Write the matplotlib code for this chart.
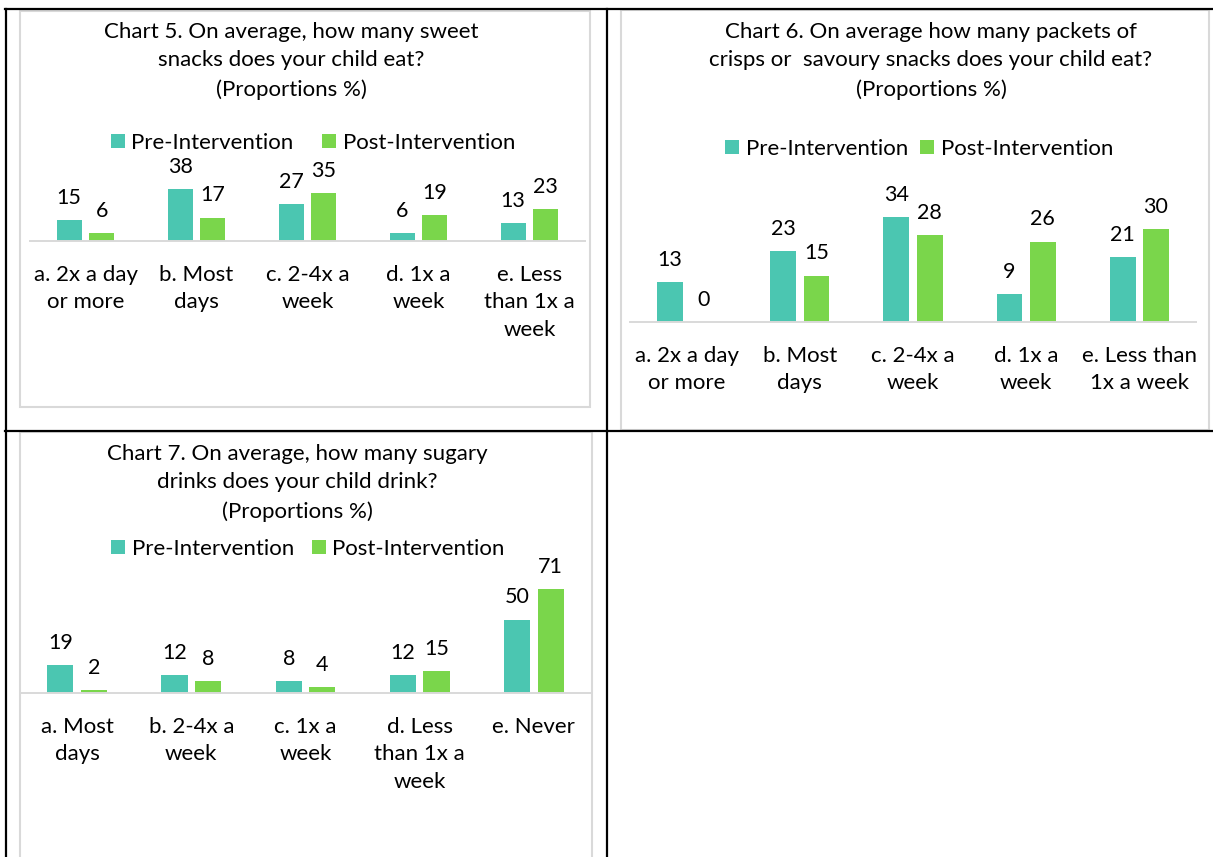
import matplotlib
matplotlib.use("Agg")
import matplotlib.pyplot as plt
from matplotlib.patches import Rectangle
from matplotlib.lines import Line2D
import numpy as np

W, H = 1213, 857
PRE_COLOR = "#4BC6B1"
POST_COLOR = "#7AD64B"
GRID_GRAY = "#D9D9D9"
FS = 16

series_names = ["Pre-Intervention", "Post-Intervention"]

# Chart 5 - sweet snacks
c5_title = "Chart 5. On average, how many sweet\nsnacks does your child eat?\n(Proportions %)"
c5_labels = ["a. 2x a day\nor more", "b. Most\ndays", "c. 2-4x a\nweek", "d. 1x a\nweek", "e. Less\nthan 1x a\nweek"]
c5_pre = [15, 38, 27, 6, 13]
c5_post = [6, 17, 35, 19, 23]

# Chart 6 - crisps / savoury snacks
c6_title = "Chart 6. On average how many packets of\ncrisps or  savoury snacks does your child eat?\n(Proportions %)"
c6_labels = ["a. 2x a day\nor more", "b. Most\ndays", "c. 2-4x a\nweek", "d. 1x a\nweek", "e. Less than\n1x a week"]
c6_pre = [13, 23, 34, 9, 21]
c6_post = [0, 15, 28, 26, 30]

# Chart 7 - sugary drinks
c7_title = "Chart 7. On average, how many sugary\ndrinks does your child drink?\n(Proportions %)"
c7_labels = ["a. Most\ndays", "b. 2-4x a\nweek", "c. 1x a\nweek", "d. Less\nthan 1x a\nweek", "e. Never"]
c7_pre = [19, 12, 8, 12, 50]
c7_post = [2, 8, 4, 15, 71]

plt.rcParams["font.family"] = ["Lato", "DejaVu Sans"]
plt.rcParams["text.color"] = "#000000"

fig = plt.figure(figsize=(W / 100, H / 100), dpi=100)


def fx(x):
    return x / W


def fy(y):
    return 1 - y / H


def draw_chart(title, title_x, title_y, labels, pre, post,
               x0, x1, base, px_per_unit, leg_x, leg_y, colspace):
    top = base - 150
    ax = fig.add_axes([fx(x0), fy(base), fx(x1) - fx(x0), (base - top) / H])
    x = np.arange(len(labels))
    width = 0.228
    off = 0.147
    b1 = ax.bar(x - off, pre, width, color=PRE_COLOR, linewidth=0,
                label=series_names[0])
    b2 = ax.bar(x + off, post, width, color=POST_COLOR, linewidth=0,
                label=series_names[1])
    ax.set_xlim(-0.5, len(labels) - 0.5)
    ax.set_ylim(0, (base - top) / px_per_unit)
    for bars, vals in ((b1, pre), (b2, post)):
        for rect, v in zip(bars, vals):
            ax.annotate(str(v), (rect.get_x() + rect.get_width() / 2, v),
                        xytext=(0, 16), textcoords="offset points",
                        ha="center", va="center", fontsize=FS - 0.5,
                        annotation_clip=False)
    for s in ["top", "left", "right"]:
        ax.spines[s].set_visible(False)
    ax.spines["bottom"].set_color(GRID_GRAY)
    ax.spines["bottom"].set_linewidth(1.4)
    ax.set_yticks([])
    ax.set_xticks(x)
    ax.set_xticklabels(labels, fontsize=FS, linespacing=1.48)
    ax.tick_params(axis="x", length=0, pad=17)
    ax.patch.set_alpha(0)
    fig.text(fx(title_x), fy(title_y), title, ha="center", va="top",
             fontsize=FS, linespacing=1.52)
    ax.legend(loc="center", bbox_to_anchor=(fx(leg_x), fy(leg_y)),
              bbox_transform=fig.transFigure, ncol=2, frameon=False,
              fontsize=FS, handlelength=0.63, handleheight=0.63,
              handletextpad=0.3, columnspacing=colspace, borderpad=0)
    return ax


# chart panels (light grey borders)
for (x0, y0, x1, y1) in [(20, 11, 590, 407), (621, 10, 1209, 430), (20, 432, 592, 880)]:
    fig.patches.append(Rectangle((fx(x0), fy(y1)), fx(x1) - fx(x0), fy(y0) - fy(y1),
                                 transform=fig.transFigure, fill=False,
                                 edgecolor=GRID_GRAY, linewidth=1.5))

draw_chart(c5_title, 291, 22, c5_labels, c5_pre, c5_post,
           30, 585, 241, 1.37, 313, 143, 1.3)
draw_chart(c6_title, 931, 22, c6_labels, c6_pre, c6_post,
           630, 1196, 322, 3.09, 919, 149, 0.55)
draw_chart(c7_title, 297, 444, c7_labels, c7_pre, c7_post,
           20, 591, 693, 1.467, 308, 549, 0.8)

# table borders
for (xa, ya, xb, yb) in [(5, 9, W, 9), (5.5, 9, 5.5, H), (607, 9, 607, H), (5, 431, W, 431)]:
    fig.lines.append(Line2D([fx(xa), fx(xb)], [fy(ya), fy(yb)],
                            transform=fig.transFigure, color="black", linewidth=1.6))

fig.savefig("out.png", dpi=100)
